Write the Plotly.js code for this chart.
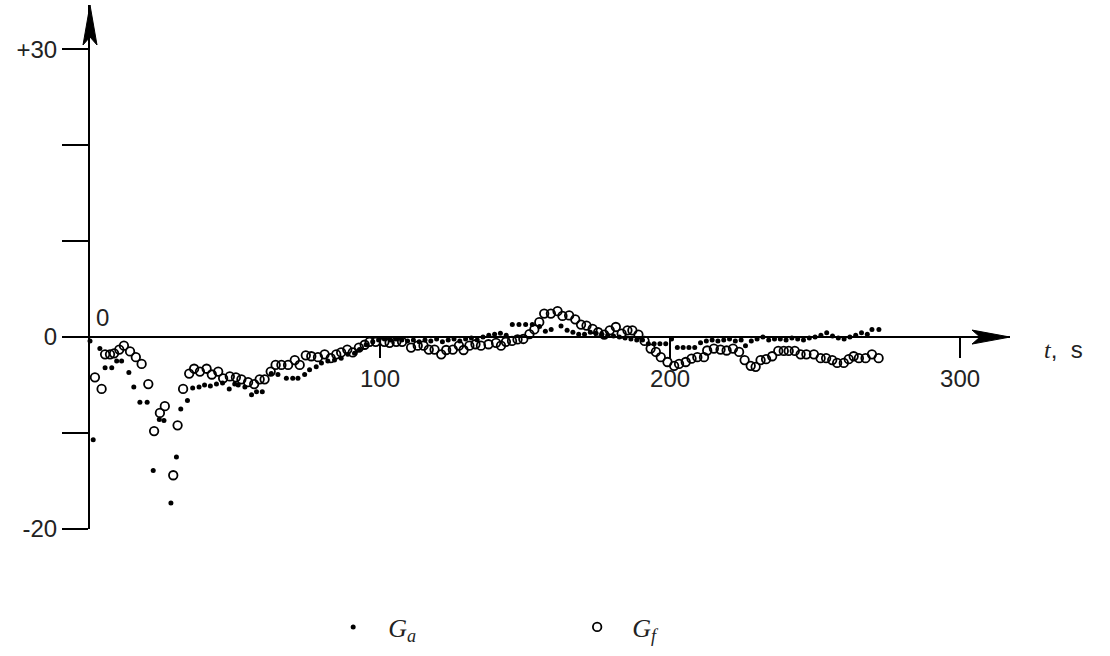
<!DOCTYPE html>
<html>
<head>
<meta charset="utf-8">
<script src="https://cdn.plot.ly/plotly-3.0.1.min.js"></script>
<style>html,body{margin:0;padding:0;background:#fff;}#chart{width:1110px;height:656px;}</style>
</head>
<body>
<div id="chart"></div>
<script>
// G_a : filled dots
const tA = [0,1.1,3.4,5.2,7.5,9.2,10.9,13.4,15.1,17.2,19.7,21.8,23.9,25.5,27.9,29.8,31.3,33.6,35.4,37.6,39.5,41.5,43.6,45.7,48.0,49.9,51.1,53.4,55.7,57.4,59.4,62.5,64.8,67.7,69.9,71.7,74.0,75.7,78.0,79.8,82.0,84.3,86.6,88.9,91.2,92.9,95.2,97.5,99.5,101.5,103.5,105.5,107.5,109.5,111.5,113.5,115.5,117.5,119.5,121.5,123.5,125.5,127.5,129.5,131.5,133.5,135.5,137.5,139.5,141.5,143.5,145.6,147.9,150.2,152.5,155.0,157.0,159.0,162.4,164.5,166.5,168.5,170.5,172.5,174.5,176.5,178.5,180.5,182.5,184.5,186.5,188.5,190.5,192.5,194.5,196.5,198.5,200.5,202.5,204.5,206.5,208.5,210.5,212.5,214.5,216.5,218.5,220.5,222.5,224.5,226.0,228.0,230.0,232.0,234.0,236.0,238.0,240.0,242.0,244.0,246.0,248.0,250.0,252.0,254.0,256.0,258.0,260.0,262.0,264.0,266.0,268.0,269.6,272.0];
const gA = [-0.4,-10.7,-1.2,-3.2,-3.2,-2.5,-2.5,-3.7,-5.2,-6.8,-6.8,-13.9,-8.6,-8.7,-17.3,-12.5,-7.5,-6.6,-5.3,-5.2,-5.0,-5.1,-4.9,-4.8,-5.4,-4.9,-5.0,-5.2,-6.0,-5.7,-5.7,-3.8,-3.9,-4.3,-4.3,-4.3,-3.9,-3.4,-3.1,-2.7,-2.5,-2.4,-2.2,-1.8,-1.7,-1.3,-0.8,-0.5,-0.3,-0.2,-0.3,-0.2,-0.3,-0.4,-0.3,-0.5,-0.3,-0.4,-0.2,-0.5,-0.3,-0.2,-0.4,-0.2,-0.1,-0.3,0.0,0.2,0.3,0.4,0.2,1.3,1.3,1.3,1.3,1.1,0.6,0.8,1.15,0.7,0.5,0.3,0.3,0.5,0.4,0.3,0.2,0.1,0.0,-0.1,-0.2,-0.3,-0.3,-0.7,-0.7,-0.7,-0.7,-0.2,-1.1,-1.1,-1.1,-1.1,-0.6,-0.4,-0.3,-0.4,-0.3,-0.2,-0.4,-0.3,-0.9,-0.4,-0.2,0.0,-0.3,-0.2,-0.2,-0.3,-0.1,-0.2,-0.3,-0.1,0.0,0.2,0.45,0.1,-0.1,-0.2,0.0,0.2,0.45,0.3,0.8,0.8];

// G_f : open circles
const tF = [1.7,4.0,5.2,6.9,8.3,10.1,11.7,13.8,15.8,17.8,20.1,22.1,24.1,25.8,28.7,30.2,32.1,34.2,35.9,37.9,40.2,42.0,44.2,45.9,48.2,50.3,52.2,54.5,56.6,58.5,60.2,62.3,64.0,66.0,68.3,70.6,72.3,74.4,76.3,78.6,80.9,83.0,84.9,86.6,88.7,90.6,92.7,94.7,96.4,98.5,101.5,103.3,105.6,107.6,110.7,113.0,115.0,116.8,118.8,121.1,122.8,125.1,127.2,128.8,130.8,132.9,134.8,137.4,140.0,141.7,143.4,145.5,147.4,149.4,151.5,153.2,154.9,156.6,158.9,161.2,162.9,165.2,167.3,169.3,171.2,173.3,175.2,177.3,179.2,181.3,183.3,185.3,187.0,189.1,191.2,193.3,195.1,196.8,199.1,201.4,203.1,205.4,207.4,209.4,211.7,212.8,215.1,217.4,219.5,221.7,223.8,225.7,227.8,229.5,231.2,233.1,235.2,237.3,239.2,240.9,243.0,245.0,247.0,249.6,251.9,253.8,255.9,257.6,259.9,261.6,263.3,265.1,267.4,269.6,271.9];
const gF = [-4.2,-5.4,-1.8,-1.8,-1.7,-1.3,-0.9,-1.5,-2.1,-2.8,-4.9,-9.8,-7.9,-7.2,-14.4,-9.2,-5.4,-3.8,-3.3,-3.6,-3.3,-3.9,-3.6,-4.3,-4.1,-4.2,-4.4,-4.7,-4.9,-4.4,-4.4,-3.6,-2.9,-2.9,-2.9,-2.4,-2.9,-1.9,-2.0,-2.1,-1.8,-2.2,-1.8,-1.6,-1.3,-1.6,-1.1,-0.8,-0.5,-0.5,-0.5,-0.6,-0.5,-0.5,-1.1,-0.9,-0.9,-1.3,-1.3,-1.8,-1.35,-1.3,-0.9,-1.35,-0.9,-0.75,-0.9,-0.75,-0.6,-0.9,-0.5,-0.4,-0.25,-0.2,0.3,0.8,1.55,2.45,2.45,2.7,2.2,2.25,1.85,1.3,1.2,0.85,0.5,0.25,0.7,1.05,0.35,0.7,0.7,0.25,-0.4,-1.2,-1.55,-2.1,-2.6,-3.0,-2.8,-2.6,-2.25,-2.1,-2.1,-1.4,-1.2,-1.3,-1.4,-1.2,-1.55,-2.4,-3.0,-3.1,-2.4,-2.3,-2.0,-1.45,-1.45,-1.45,-1.45,-1.8,-1.8,-1.8,-2.2,-2.2,-2.4,-2.7,-2.7,-2.3,-2.0,-2.2,-2.2,-1.8,-2.2];

const yTickVals = [-20,0,30];
const yTickText = ['-20','0','+30'];
const yMinorTickVals = [-10,10,20];
const xTickVals = [100,200,300];
const xTickText = ['100','200','300'];

const X_MAX = 317.2, Y_MIN = -20, Y_MAX = 34.6;
const X_AXIS_POS = (0-Y_MIN)/(Y_MAX-Y_MIN);
const tickFont = {family:'Liberation Sans, Arial, sans-serif', size:24, color:'#222'};

const traces = [
  {x:tA, y:gA, type:'scatter', mode:'markers', name:'<i>G</i><sub><i>a</i></sub>',
   marker:{symbol:'circle', size:5, color:'#000'}, cliponaxis:false},
  {x:tF, y:gF, type:'scatter', mode:'markers', name:'<i>G</i><sub><i>f</i></sub>',
   marker:{symbol:'circle-open', size:8.5, color:'#000', line:{width:1.8, color:'#000'}}, cliponaxis:false}
];

const layout = {
  width:1110, height:656,
  margin:{l:90, r:100, t:5, b:127},
  paper_bgcolor:'#fff', plot_bgcolor:'rgba(0,0,0,0)',
  showlegend:true,
  legend:{orientation:'h', x:0.248, xanchor:'left', y:-0.187, yanchor:'middle',
          font:{family:'Liberation Serif, DejaVu Serif, serif', size:26, color:'#222'},
          entrywidth:169, entrywidthmode:'pixels', itemwidth:60, bgcolor:'rgba(0,0,0,0)'},
  xaxis:{range:[0, X_MAX], anchor:'free', position:X_AXIS_POS,
         showline:true, linecolor:'#000', linewidth:2, showgrid:false, zeroline:false,
         ticks:'outside', ticklen:20, tickwidth:2, tickcolor:'#000',
         tickvals:xTickVals, ticktext:xTickText, tickfont:tickFont, fixedrange:true},
  yaxis:{range:[Y_MIN, Y_MAX], showline:true, linecolor:'#000', linewidth:2, showgrid:false, zeroline:false,
         ticks:'outside', ticklen:26, tickwidth:2, tickcolor:'#000',
         tickvals:yTickVals, ticktext:yTickText, tickfont:tickFont, fixedrange:true,
         minor:{tickvals:yMinorTickVals, ticks:'outside', ticklen:26, tickwidth:2, tickcolor:'#000', showgrid:false}},
  shapes:[
    {type:'path', xref:'paper', yref:'paper', xsizemode:'pixel', ysizemode:'pixel', xanchor:1, yanchor:X_AXIS_POS,
     path:'M0,0 L-38,7 L-30,0 L-38,-7 Z', fillcolor:'#000', line:{color:'#000', width:1}},
    {type:'path', xref:'paper', yref:'paper', xsizemode:'pixel', ysizemode:'pixel', xanchor:0, yanchor:1,
     path:'M0,0 L7,-40 L0,-32 L-7,-40 Z', fillcolor:'#000', line:{color:'#000', width:1}}
  ],
  annotations:[
    {xref:'x', yref:'y', x:0, y:0, text:'0', showarrow:false, xanchor:'left', yanchor:'bottom',
     xshift:4, yshift:4, font:tickFont},
    {xref:'x', yref:'y', x:X_MAX, y:0, text:'<i><span style="font-family:Liberation Serif">t</span></i>,  s',
     showarrow:false, xanchor:'left', yanchor:'middle', xshift:32, yshift:-12, font:tickFont}
  ]
};

Plotly.newPlot('chart', traces, layout, {displayModeBar:false, staticPlot:true});
</script>
</body>
</html>
